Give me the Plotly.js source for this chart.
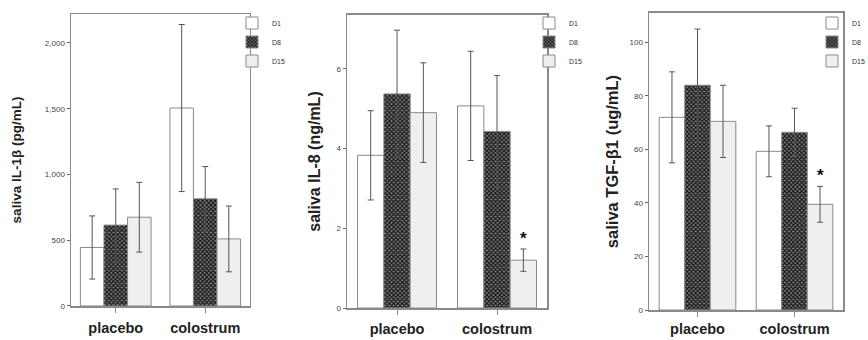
<!DOCTYPE html>
<html>
<head>
<meta charset="utf-8">
<script src="https://cdn.plot.ly/plotly-3.0.1.min.js"></script>
<style>html,body{margin:0;padding:0;background:#fff;}</style>
</head>
<body>
<div id="chart" style="width:868px;height:340px;"></div>
<script>
// Groups and sampling days
const groups = ["placebo", "colostrum"];
const days = ["D1", "D8", "D15"];

// Saliva IL-1β (pg/mL): mean and error per day, [placebo, colostrum]
const il1b_D1 = [445, 1505];
const il1b_D1_err = [240, 635];
const il1b_D8 = [615, 815];
const il1b_D8_err = [275, 245];
const il1b_D15 = [675, 510];
const il1b_D15_err = [265, 250];

// Saliva IL-8 (ng/mL)
const il8_D1 = [3.83, 5.07];
const il8_D1_err = [1.12, 1.37];
const il8_D8 = [5.37, 4.43];
const il8_D8_err = [1.6, 1.4];
const il8_D15 = [4.9, 1.2];
const il8_D15_err = [1.25, 0.28];

// Saliva TGF-β1 (ug/mL)
const tgf_D1 = [72, 59.3];
const tgf_D1_err = [17, 9.5];
const tgf_D8 = [84, 66.4];
const tgf_D8_err = [21, 9];
const tgf_D15 = [70.5, 39.5];
const tgf_D15_err = [13.5, 6.7];

// Significant difference marker: [placebo, colostrum] for D15
const il8_sig = [false, true];
const tgf_sig = [false, true];

const FONT = "Liberation Sans, Arial, sans-serif";
const BARGAP = 0.21;
const LINE = "#8a8a8a";

const dayStyles = {
  D1: { color: "#ffffff" },
  D8: { color: "#444444", pattern: { shape: "x", fgcolor: "#151515", bgcolor: "#808080", size: 3, solidity: 0.6 } },
  D15: { color: "#efefef" }
};

const panels = [
  { ax: "", legend: "legend", series: [[il1b_D1, il1b_D1_err], [il1b_D8, il1b_D8_err], [il1b_D15, il1b_D15_err]] },
  { ax: "2", legend: "legend2", series: [[il8_D1, il8_D1_err], [il8_D8, il8_D8_err], [il8_D15, il8_D15_err]] },
  { ax: "3", legend: "legend3", series: [[tgf_D1, tgf_D1_err], [tgf_D8, tgf_D8_err], [tgf_D15, tgf_D15_err]] }
];

const traces = [];
panels.forEach(p => {
  p.series.forEach((s, i) => {
    const st = dayStyles[days[i]];
    const marker = { color: st.color, line: { color: LINE, width: 1 } };
    if (st.pattern) marker.pattern = st.pattern;
    traces.push({
      type: "bar",
      name: days[i],
      x: groups,
      y: s[0],
      error_y: { type: "data", array: s[1], visible: true, color: "#555", thickness: 1, width: 3 },
      marker: marker,
      xaxis: "x" + p.ax,
      yaxis: "y" + p.ax,
      legend: p.legend,
      hoverinfo: "y"
    });
  });
});

function xAxis(domain, anchor, standoff) {
  return {
    domain: domain, anchor: anchor, type: "category", range: [-0.5, 1.5],
    showline: true, mirror: true, linecolor: LINE, linewidth: 1.5,
    ticks: "outside", ticklen: 5, tickcolor: LINE, ticklabelstandoff: standoff,
    tickfont: { family: FONT, size: 14.5, weight: "bold", color: "#222" },
    showgrid: false, zeroline: false
  };
}
function yAxis(domain, anchor, range, dtick, title, titleSize, standoff, fmt) {
  return {
    domain: domain, anchor: anchor, range: range, dtick: dtick, tick0: 0,
    tickformat: fmt || "", showline: true, mirror: true, linecolor: LINE, linewidth: 1.5,
    ticks: "outside", ticklen: 3, tickcolor: "#666",
    tickfont: { family: FONT, size: 8, color: "#444" },
    showgrid: false, zeroline: false,
    title: { text: title, standoff: standoff, font: { family: FONT, size: titleSize, weight: "bold", color: "#222" } }
  };
}
function legendAt(x) {
  return {
    x: x, y: 0.975, xanchor: "left", yanchor: "top", xref: "paper", yref: "paper",
    bgcolor: "rgba(0,0,0,0)", borderwidth: 0,
    font: { family: FONT, size: 7, color: "#333" }, tracegroupgap: 0
  };
}

// Stars above the colostrum D15 bars that differ significantly
const barW = (1 - BARGAP) / 3;
const annotations = [];
[[il8_sig, il8_D15, il8_D15_err, "2"], [tgf_sig, tgf_D15, tgf_D15_err, "3"]].forEach(a => {
  a[0].forEach((sig, gi) => {
    if (!sig) return;
    annotations.push({
      xref: "x" + a[3], yref: "y" + a[3], x: gi + barW, y: a[1][gi] + a[2][gi],
      text: "*", showarrow: false, yanchor: "bottom", yshift: -1,
      font: { family: FONT, size: 17, weight: "bold", color: "#111" }
    });
  });
});

const layout = {
  width: 868, height: 340,
  margin: { l: 0, r: 0, t: 0, b: 0, autoexpand: false },
  paper_bgcolor: "#fff", plot_bgcolor: "#fff",
  barmode: "group", bargap: BARGAP, bargroupgap: 0,
  showlegend: true,
  xaxis: xAxis([0.0818, 0.288], "y", 3),
  yaxis: yAxis([0.1, 0.9588], "x", [0, 2220], 500, "saliva IL-1β (pg/mL)", 13.5, 20, ",d"),
  xaxis2: xAxis([0.3998, 0.6302], "y2", 2),
  yaxis2: yAxis([0.0941, 0.9559], "x2", [0, 7.35], 2, "saliva IL-8 (ng/mL)", 16, 12),
  xaxis3: xAxis([0.7477, 0.9712], "y3", 0),
  yaxis3: yAxis([0.0882, 0.9618], "x3", [0, 111], 20, "saliva TGF-β1 (ug/mL)", 16.5, 7),
  legend: legendAt(232 / 868),
  legend2: legendAt(529 / 868),
  legend3: legendAt(812 / 868),
  annotations: annotations
};

Plotly.newPlot("chart", traces, layout, { staticPlot: true, displayModeBar: false });
</script>
</body>
</html>
